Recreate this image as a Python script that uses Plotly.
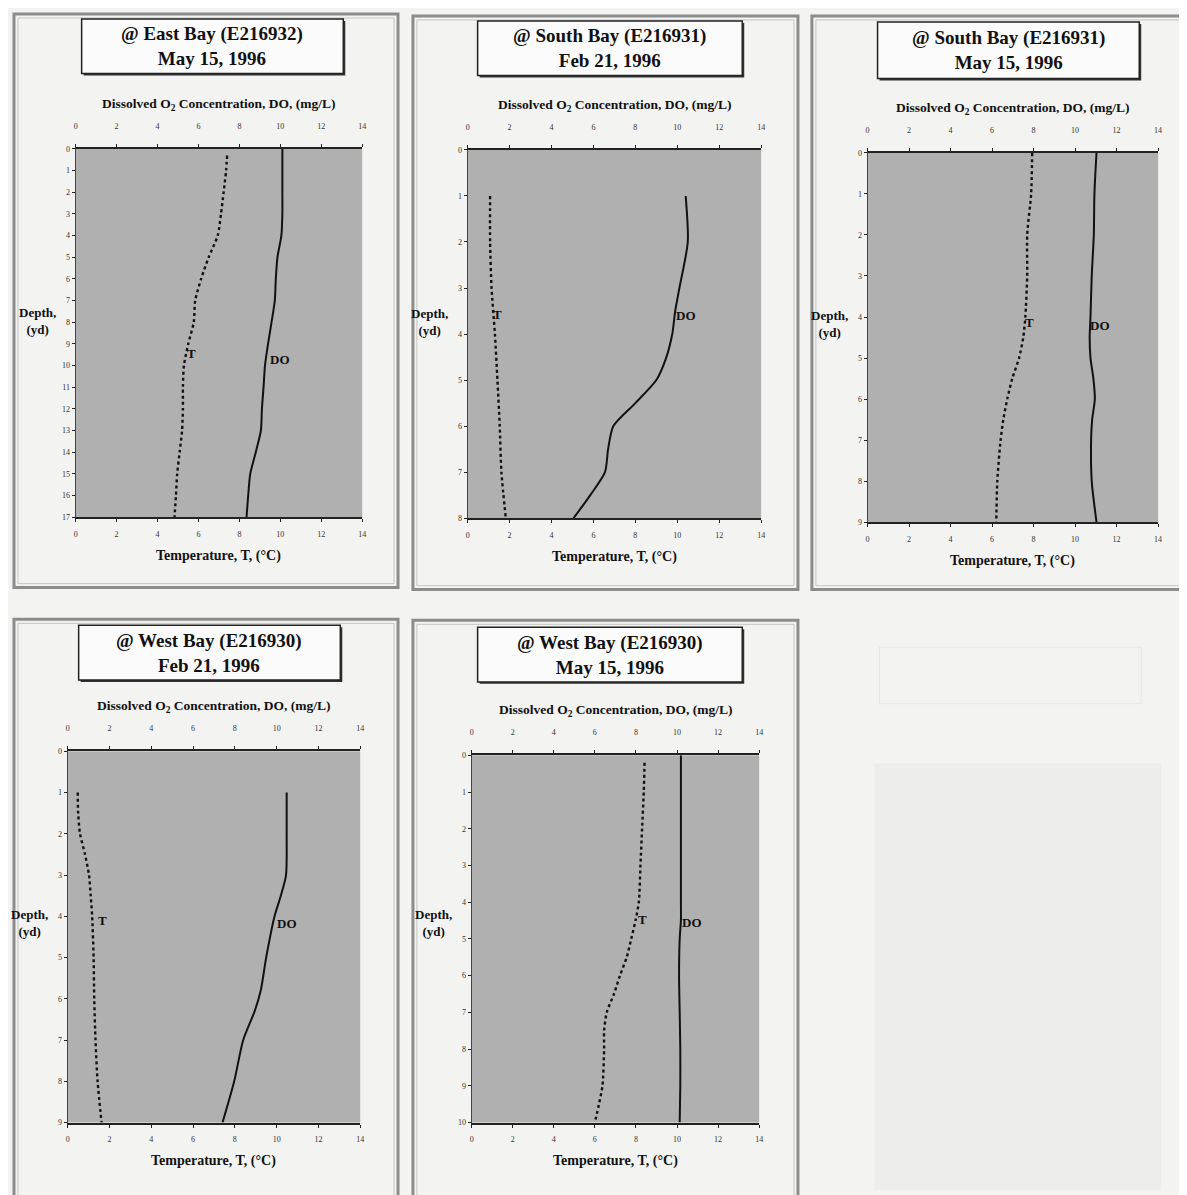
import plotly.graph_objects as go

# reference canvas is 1187x1195; the page body adds an 8 px margin, so the figure is
# 8 px smaller and all pixel positions are shifted by 8.
REF_W, REF_H = 1187, 1195
OFF = 8
W, H = REF_W - OFF, REF_H - OFF

# ---------------- data ----------------
titles = ["@ East Bay (E216932)<br>May 15, 1996",
          "@ South Bay (E216931)<br>Feb 21, 1996",
          "@ South Bay (E216931)<br>May 15, 1996",
          "@ West Bay (E216930)<br>Feb 21, 1996",
          "@ West Bay (E216930)<br>May 15, 1996"]
depth_max = [17, 8, 9, 9, 10]
x_ticks = [0, 2, 4, 6, 8, 10, 12, 14]

# East Bay, May 15
eb_may_t_depth = [0.3, 1, 2, 3, 4, 5, 6, 7, 8, 9, 10, 11, 12, 13, 14, 15, 16, 17]
eb_may_t = [7.4, 7.35, 7.23, 7.1, 6.94, 6.5, 6.13, 5.84, 5.77, 5.5, 5.29, 5.24, 5.24, 5.2, 5.08, 4.96, 4.9, 4.83]
eb_may_do_depth = [0, 1, 2, 3, 4, 5, 6, 7, 8, 9, 10, 11, 12, 13, 14, 15, 16, 17]
eb_may_do = [10.1, 10.1, 10.1, 10.1, 10.05, 9.86, 9.78, 9.73, 9.57, 9.4, 9.25, 9.18, 9.1, 9.05, 8.8, 8.53, 8.43, 8.35]

# South Bay, Feb 21
sb_feb_t_depth = [1, 2, 3, 4, 5, 6, 7, 8]
sb_feb_t = [1.07, 1.07, 1.14, 1.3, 1.42, 1.53, 1.61, 1.82]
sb_feb_do_depth = [1, 2, 3, 3.5, 4, 4.5, 5, 5.5, 6, 6.5, 7, 7.5, 8]
sb_feb_do = [10.4, 10.5, 10.1, 9.9, 9.76, 9.48, 9.0, 8.0, 6.95, 6.7, 6.55, 5.85, 5.05]

# South Bay, May 15
sb_may_t_depth = [0, 1, 2, 3, 4, 4.5, 5, 5.5, 6, 6.5, 7, 8, 9]
sb_may_t = [7.93, 7.88, 7.69, 7.69, 7.6, 7.5, 7.3, 6.97, 6.73, 6.54, 6.41, 6.25, 6.2]
sb_may_do_depth = [0, 1, 2, 3, 4, 4.5, 5, 5.5, 6, 6.5, 7, 8, 9]
sb_may_do = [11.03, 10.93, 10.9, 10.8, 10.74, 10.7, 10.74, 10.88, 10.95, 10.82, 10.77, 10.8, 11.03]

# West Bay, Feb 21
wb_feb_t_depth = [1, 1.5, 2, 2.5, 3, 3.5, 4, 5, 6, 7, 8, 9]
wb_feb_t = [0.48, 0.5, 0.59, 0.83, 1.02, 1.1, 1.17, 1.24, 1.27, 1.33, 1.43, 1.62]
wb_feb_do_depth = [1, 2, 3, 3.5, 4, 5, 5.8, 6.3, 7, 8, 9]
wb_feb_do = [10.48, 10.48, 10.45, 10.2, 9.9, 9.5, 9.24, 8.95, 8.4, 7.97, 7.41]

# West Bay, May 15
wb_may_t_depth = [0.2, 1, 2, 3, 4, 4.5, 5, 5.5, 6, 6.5, 7, 7.5, 8, 9, 9.5, 10]
wb_may_t = [8.42, 8.38, 8.3, 8.22, 8.14, 7.98, 7.77, 7.55, 7.22, 6.93, 6.58, 6.45, 6.45, 6.37, 6.2, 6.0]
wb_may_do_depth = [0, 1, 2, 3, 4, 4.5, 5, 6, 7, 8, 9, 10]
wb_may_do = [10.19, 10.19, 10.19, 10.19, 10.19, 10.19, 10.13, 10.1, 10.13, 10.16, 10.16, 10.13]

# label anchor positions (value, depth)
t_label_pos = [(5.65, 9.45), (1.42, 3.58), (7.81, 4.14), (1.67, 4.1), (8.33, 4.46)]
do_label_pos = [(10.0, 9.7), (10.4, 3.6), (11.2, 4.2), (10.5, 4.17), (10.75, 4.54)]

panels_t = [(eb_may_t, eb_may_t_depth), (sb_feb_t, sb_feb_t_depth), (sb_may_t, sb_may_t_depth),
            (wb_feb_t, wb_feb_t_depth), (wb_may_t, wb_may_t_depth)]
panels_do = [(eb_may_do, eb_may_do_depth), (sb_feb_do, sb_feb_do_depth), (sb_may_do, sb_may_do_depth),
             (wb_feb_do, wb_feb_do_depth), (wb_may_do, wb_may_do_depth)]

# ---------------- layout geometry (reference pixels) ----------------
plot_boxes = [(74, 362, 146, 517), (468, 763, 147, 518), (870, 1162, 150, 522),
              (66, 360, 753, 1127), (472, 761, 757, 1127)]
title_boxes = [(80, 343, 15, 70), (478, 744, 17, 72), (880, 1143, 18, 75),
               (77, 340, 626, 681), (478, 744, 628, 683)]
frames = [(12, 398, 10, 588), (413, 800, 12, 590), (814, 1195, 12, 590),
          (12, 398, 620, 1205), (413, 800, 621, 1205)]
depth_label_y = [319, 320, 322, 926, 926]


def px(x):
    return (x - OFF) / W


def py(y):
    return 1 - (y - OFF) / H


SERIF = "Liberation Serif, Times New Roman, serif"
PLOT_BG = "#b0b0b0"
TICKFONT = dict(size=8, color="#333", family=SERIF)

fig = go.Figure()
layout = dict(width=W, height=H, margin=dict(l=0, r=0, t=0, b=0),
              paper_bgcolor="#f3f3f1", plot_bgcolor=PLOT_BG, showlegend=False,
              font=dict(family=SERIF, color="#111"))
shapes = []
annotations = []

for k in range(5):
    xb_id = 2 * k + 1
    xt_id = 2 * k + 2
    y_id = k + 1
    xb = "x" if xb_id == 1 else f"x{xb_id}"
    xt = f"x{xt_id}"
    yy = "y" if y_id == 1 else f"y{y_id}"
    x0, x1, y0, y1 = plot_boxes[k]
    dom_x = [px(x0), px(x1)]
    dom_y = [py(y1), py(y0)]
    dmax = depth_max[k]

    layout["xaxis" if xb_id == 1 else f"xaxis{xb_id}"] = dict(
        domain=dom_x, anchor=yy, range=[0, 14], tickvals=x_ticks, side="bottom",
        showline=True, linecolor="#222", linewidth=2, mirror=False,
        ticks="outside", ticklen=3, tickcolor="#222", showgrid=False, zeroline=False,
        tickfont=TICKFONT, ticklabelstandoff=5)
    layout[f"xaxis{xt_id}"] = dict(
        domain=dom_x, anchor=yy, overlaying=xb, range=[0, 14], tickvals=x_ticks, side="top",
        showline=True, linecolor="#222", linewidth=2,
        ticks="outside", ticklen=3, tickcolor="#222", showgrid=False, zeroline=False,
        tickfont=TICKFONT, ticklabelstandoff=12)
    layout["yaxis" if y_id == 1 else f"yaxis{y_id}"] = dict(
        domain=dom_y, anchor=xb, range=[dmax, 0], tickvals=list(range(0, dmax + 1)),
        showline=True, linecolor="#444", linewidth=1,
        ticks="outside", ticklen=3, tickcolor="#222", showgrid=False, zeroline=False,
        tickfont=TICKFONT)

    tv, td = panels_t[k]
    dv, dd = panels_do[k]
    fig.add_trace(go.Scatter(x=tv, y=td, mode="lines", xaxis=xb, yaxis=yy,
                             line=dict(color="#111", width=2.4, dash="dot", shape="spline", smoothing=0.7),
                             name="T", hoverinfo="x+y"))
    fig.add_trace(go.Scatter(x=dv, y=dd, mode="lines", xaxis=xt, yaxis=yy,
                             line=dict(color="#111", width=2, shape="spline", smoothing=0.7),
                             name="DO", hoverinfo="x+y"))

    # series labels
    tx, tdp = t_label_pos[k]
    annotations.append(dict(x=tx, y=tdp, xref=xb, yref=yy, text="<b>T</b>", showarrow=False,
                            font=dict(size=13, family=SERIF, color="#111"), xanchor="center"))
    ox, odp = do_label_pos[k]
    annotations.append(dict(x=ox, y=odp, xref=xb, yref=yy, text="<b>DO</b>", showarrow=False,
                            font=dict(size=13, family=SERIF, color="#111"), xanchor="center"))

    # panel frame (double gray line)
    fx0, fx1, fy0, fy1 = frames[k]
    shapes.append(dict(type="rect", xref="paper", yref="paper", x0=px(fx0), x1=px(fx1),
                       y0=py(fy1), y1=py(fy0), line=dict(color="#8c8c8c", width=3),
                       fillcolor="rgba(0,0,0,0)", layer="below"))
    shapes.append(dict(type="rect", xref="paper", yref="paper", x0=px(fx0 + 4), x1=px(fx1 - 4),
                       y0=py(fy1 - 4), y1=py(fy0 + 4), line=dict(color="#c4c4c4", width=1),
                       fillcolor="rgba(0,0,0,0)", layer="below"))

    # title box with shadow
    bx0, bx1, by0, by1 = title_boxes[k]
    shapes.append(dict(type="rect", xref="paper", yref="paper", x0=px(bx0 + 2), x1=px(bx1 + 2),
                       y0=py(by1 + 2), y1=py(by0 + 2), line=dict(width=0), fillcolor="#333"))
    shapes.append(dict(type="rect", xref="paper", yref="paper", x0=px(bx0), x1=px(bx1),
                       y0=py(by1), y1=py(by0), line=dict(color="#222", width=1.5), fillcolor="#fbfbfb"))
    annotations.append(dict(x=px((bx0 + bx1) / 2), y=py((by0 + by1) / 2), xref="paper", yref="paper",
                            text="<b>" + titles[k].replace("<br>", "</b><br><b>") + "</b>",
                            showarrow=False, font=dict(size=19, family=SERIF, color="#111"),
                            align="center", xanchor="center", yanchor="middle"))

    # axis titles
    cx = (x0 + x1) / 2
    annotations.append(dict(x=px(cx), y=py(y0 - 45), xref="paper", yref="paper",
                            text="<b>Dissolved O<sub>2</sub> Concentration, DO, (mg/L)</b>",
                            showarrow=False, font=dict(size=13.5, family=SERIF, color="#111"),
                            xanchor="center", yanchor="middle"))
    annotations.append(dict(x=px(cx), y=py(y1 + 39), xref="paper", yref="paper",
                            text="<b>Temperature, T, (°C)</b>",
                            showarrow=False, font=dict(size=14, family=SERIF, color="#111"),
                            xanchor="center", yanchor="middle"))
    annotations.append(dict(x=px(x0 - 38), y=py(depth_label_y[k]), xref="paper", yref="paper",
                            text="<b>Depth,</b><br><b>(yd)</b>",
                            showarrow=False, font=dict(size=13, family=SERIF, color="#111"),
                            xanchor="center", yanchor="middle", align="center"))

# faint show-through in the empty sixth slot
shapes.append(dict(type="rect", xref="paper", yref="paper", x0=px(877), x1=px(1165),
                   y0=py(1195), y1=py(765), line=dict(width=0), fillcolor="rgba(0,0,0,0.025)", layer="below"))
shapes.append(dict(type="rect", xref="paper", yref="paper", x0=px(882), x1=px(1145),
                   y0=py(705), y1=py(648), line=dict(color="rgba(0,0,0,0.05)", width=1),
                   fillcolor="rgba(0,0,0,0)", layer="below"))

layout["shapes"] = shapes
layout["annotations"] = annotations
fig.update_layout(**layout)
fig.write_html("out.html")
